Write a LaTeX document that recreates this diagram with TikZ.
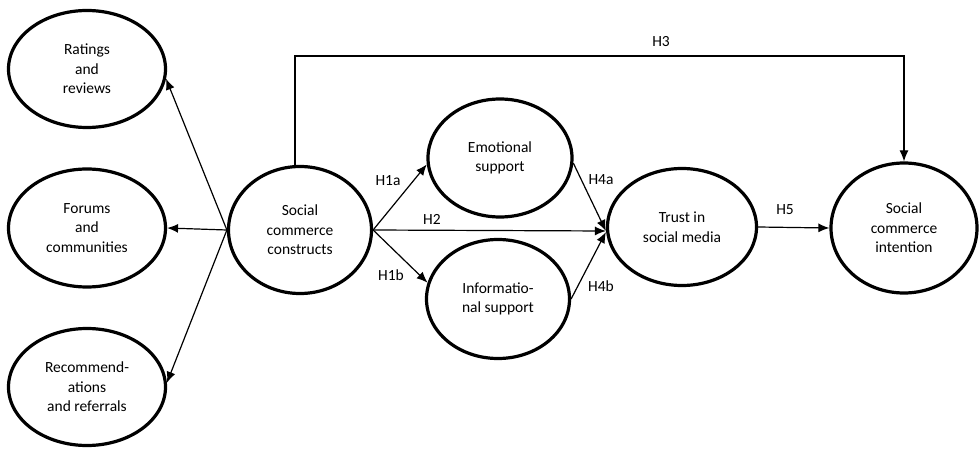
\documentclass[tikz,border=0pt]{standalone}
\usepackage{fontspec}
\setmainfont{Carlito}
\usepackage{tikz}
\usetikzlibrary{shapes.geometric,arrows.meta}

\tikzset{
  construct/.style={ellipse, draw, line width=3.2pt, inner sep=0pt, align=center,
    font=\fontsize{15.5}{19.5}\selectfont},
  path/.style={line width=1.2pt, -{Latex[length=11pt,width=9pt]}},
  hyp/.style={font=\fontsize{15.5}{18}\selectfont, inner sep=0.75pt}
}

\begin{document}
\begin{tikzpicture}[x=1pt,y=1pt,yscale=-1,xscale=1]
\useasboundingbox (0,0) rectangle (980,449);

%Shape: Ellipse [ratings]
\node [construct, minimum width=157, minimum height=117] (ratings) at (87,69) {Ratings\\and\\reviews};
%Shape: Ellipse [forums]
\node [construct, minimum width=157, minimum height=118] (forums) at (87,228) {Forums\\and\\communities};
%Shape: Ellipse [recs]
\node [construct, minimum width=157, minimum height=117] (recs) at (87,387) {Recommend-\\ations\\and referrals};
%Shape: Ellipse [scc]
\node [construct, minimum width=143, minimum height=127] (scc) at (300,230) {Social\\commerce\\constructs};
%Shape: Ellipse [emo]
\node [construct, minimum width=144, minimum height=118] (emo) at (500,158) {Emotional\\support};
%Shape: Ellipse [info]
\node [construct, minimum width=143, minimum height=119] (info) at (498,299) {Informatio-\\nal support};
%Shape: Ellipse [trust]
\node [construct, minimum width=149, minimum height=117] (trust) at (682,227) {Trust in\\social media};
%Shape: Ellipse [sci]
\node [construct, minimum width=146, minimum height=130] (sci) at (904,228) {Social\\commerce\\intention};

%Straight Lines [dimensions]
\draw [path] (scc.west) -- (ratings.-7);
\draw [path] (scc.west) -- (forums.east);
\draw [path] (scc.west) -- (recs.3);

%Straight Lines [H3]
\coordinate (topH3) at (600,56);
\draw [path] ([xshift=-5]scc.north) |- (topH3) -| (sci.north);

%Straight Lines [H1a, H2, H1b]
\draw [path] (scc.east) -- (emo.185);
\draw [path] (scc.east) -- ([yshift=4]trust.west);
\draw [path] (scc.east) -- (info.167);

%Straight Lines [H4a, H4b, H5]
\draw [path] (emo.-4) -- ([yshift=4]trust.west);
\draw [path] (info.east) -- ([yshift=5]trust.west);
\draw [path] (trust.east) -- (sci.west);

% Text Node
\node [hyp] (h3) at (661,42) {H3};
% Text Node
\node [hyp] (h1a) at (388,181) {H1a};
% Text Node
\node [hyp] (h2) at (432,219) {H2};
% Text Node
\node [hyp] (h1b) at (391,275) {H1b};
% Text Node
\node [hyp] (h4a) at (601,180) {H4a};
% Text Node
\node [hyp] (h4b) at (601,286) {H4b};
% Text Node
\node [hyp] (h5) at (785,210) {H5};

\end{tikzpicture}
\end{document}
